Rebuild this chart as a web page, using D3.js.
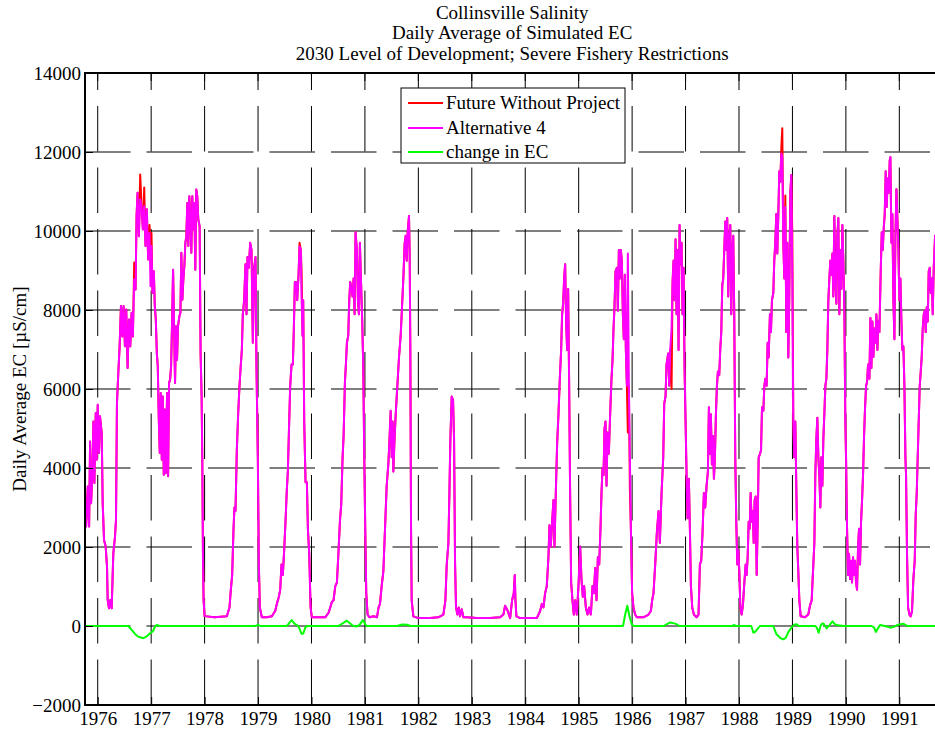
<!DOCTYPE html>
<html>
<head>
<meta charset="utf-8">
<script src="https://cdn.jsdelivr.net/npm/d3@7"></script>
<style>
  html, body { margin: 0; padding: 0; background: #ffffff; }
  svg { display: block; }
  text { font-family: "Liberation Serif", "Times New Roman", Times, serif; fill: #000; }
</style>
</head>
<body>
<svg id="chart" width="935" height="733"></svg>
<script>
// ---------------- data ----------------
const titleLines = [
  "Collinsville Salinity",
  "Daily Average of Simulated EC",
  "2030 Level of Development; Severe Fishery Restrictions"
];
const yAxisLabel = "Daily Average EC [\u00B5S/cm]";
const seriesNames = ["Future Without Project", "Alternative 4", "change in EC"];
const seriesColors = ["#ff0000", "#ff00ff", "#00ff00"];
const yTicks = [-2000, 0, 2000, 4000, 6000, 8000, 10000, 12000, 14000];
const xTickYears = [1976, 1977, 1978, 1979, 1980, 1981, 1982, 1983, 1984, 1985, 1986, 1987, 1988, 1989, 1990, 1991];

// time in decimal years (water years 1976-1991)
const ecTime = [
  1975.764,1975.783,1975.814,1975.839,1975.857,1975.876,1975.901,1975.919,1975.938,1975.963,1975.981,1976.000,1976.025,1976.043,1976.075,1976.093,1976.118,1976.149,1976.174,1976.186,1976.211,1976.236,1976.261,
  1976.292,1976.323,1976.342,1976.360,1976.385,1976.410,1976.435,1976.460,1976.484,1976.509,1976.534,1976.559,1976.584,1976.609,1976.634,1976.658,1976.683,1976.708,1976.727,1976.745,1976.770,1976.795,1976.820,1976.845,1976.870,1976.894,1976.919,1976.944,1976.969,1976.988,1977.006,
  1977.025,1977.050,1977.068,1977.087,1977.106,1977.124,1977.143,1977.161,1977.180,1977.199,1977.217,1977.236,1977.255,1977.273,1977.298,1977.317,1977.335,1977.354,1977.373,1977.391,1977.410,1977.429,1977.447,1977.466,1977.484,1977.503,
  1977.528,1977.547,1977.565,1977.584,1977.602,1977.621,1977.640,1977.658,1977.677,1977.696,1977.714,1977.733,1977.752,1977.770,1977.789,1977.807,1977.826,1977.845,1977.863,1977.882,1977.907,1977.925,1977.944,1977.957,1977.969,1977.981,1978.000,1978.186,
  1978.416,1978.466,1978.491,1978.516,1978.541,1978.559,1978.578,1978.603,1978.628,1978.653,1978.678,1978.697,1978.715,1978.740,1978.765,1978.784,1978.803,1978.828,1978.853,1978.878,1978.903,1978.928,1978.953,1978.971,1978.996,1979.015,1979.034,
  1979.071,1979.165,1979.258,1979.321,1979.352,1979.390,1979.415,1979.439,1979.464,1979.489,1979.514,1979.539,1979.558,1979.583,1979.602,1979.627,1979.652,1979.670,1979.689,1979.714,1979.733,1979.758,1979.777,1979.801,1979.814,1979.833,1979.845,1979.864,1979.889,1979.914,1979.933,1979.958,1979.983,1980.007,
  1980.257,1980.320,1980.351,1980.382,1980.413,1980.445,1980.476,1980.507,1980.532,1980.557,1980.582,1980.601,1980.626,1980.644,1980.663,1980.688,1980.707,1980.725,1980.750,1980.769,1980.788,1980.806,1980.825,1980.850,1980.869,1980.888,1980.906,1980.925,1980.950,1980.969,1980.988,1981.006,1981.025,1981.050,1981.087,1981.162,1981.225,1981.256,
  1981.282,1981.313,1981.345,1981.376,1981.407,1981.438,1981.457,1981.482,1981.501,1981.519,1981.532,1981.551,1981.576,1981.607,1981.638,1981.669,1981.694,1981.719,1981.744,1981.763,1981.782,1981.800,1981.825,1981.838,1981.850,1981.863,1981.875,1981.906,1982.000,1982.218,1982.375,1982.468,1982.506,1982.531,1982.562,1982.581,1982.599,1982.624,1982.649,1982.668,1982.687,1982.705,1982.730,1982.755,1982.780,1982.811,1982.843,1982.905,
  1983.092,1983.342,1983.529,1983.592,1983.623,1983.673,1983.717,1983.754,1983.785,1983.804,1983.817,1983.835,1983.904,1984.216,1984.279,1984.310,1984.341,1984.372,1984.403,1984.434,1984.453,1984.478,1984.503,1984.528,1984.547,1984.572,1984.597,1984.622,1984.647,1984.672,1984.690,1984.709,1984.728,1984.747,1984.765,1984.784,1984.803,1984.822,1984.840,1984.859,1984.884,1984.909,1984.934,1984.965,
  1984.996,1985.028,1985.052,1985.077,1985.102,1985.134,1985.165,1985.196,1985.228,1985.259,1985.284,1985.309,1985.334,1985.359,1985.384,1985.408,1985.427,1985.446,1985.465,1985.483,1985.502,1985.521,1985.540,1985.564,1985.589,1985.614,1985.633,1985.652,1985.670,1985.689,1985.714,1985.733,1985.752,1985.770,1985.789,1985.808,1985.827,1985.845,1985.864,1985.883,1985.902,1985.920,1985.939,1985.958,1985.977,1986.000,1986.025,1986.057,1986.088,1986.213,1986.307,1986.351,1986.375,1986.400,1986.432,1986.463,1986.494,
  1986.519,1986.551,1986.582,1986.601,1986.625,1986.644,1986.675,1986.694,1986.713,1986.738,1986.757,1986.775,1986.794,1986.813,1986.831,1986.850,1986.869,1986.888,1986.906,1986.925,1986.944,1986.963,1986.981,1987.000,1987.019,1987.037,1987.062,1987.081,1987.100,1987.125,1987.156,1987.206,1987.243,1987.268,1987.293,1987.318,1987.343,1987.368,1987.393,1987.418,1987.437,1987.456,1987.474,1987.493,1987.512,1987.531,1987.549,1987.568,1987.587,1987.605,1987.630,1987.649,1987.668,1987.687,1987.705,1987.724,1987.743,1987.762,1987.780,1987.799,1987.818,1987.837,1987.855,1987.874,1987.893,1987.911,1987.930,1987.949,1987.968,1987.987,
  1988.006,1988.025,1988.050,1988.075,1988.100,1988.125,1988.143,1988.162,1988.181,1988.200,1988.218,1988.237,1988.256,1988.275,1988.293,1988.312,1988.331,1988.350,1988.368,1988.393,1988.412,1988.431,1988.456,1988.474,1988.493,1988.517,1988.536,1988.554,1988.579,1988.598,1988.617,1988.642,1988.660,1988.679,1988.698,1988.717,1988.736,1988.754,1988.773,1988.792,1988.810,1988.829,1988.848,1988.867,1988.885,1988.904,1988.923,1988.941,1988.960,1988.979,1988.998,1989.016,1989.035,1989.054,1989.073,1989.091,1989.110,1989.129,
  1989.154,1989.235,1989.297,1989.328,1989.360,1989.391,1989.410,1989.428,1989.447,1989.466,1989.485,1989.503,1989.522,1989.541,1989.560,1989.578,1989.597,1989.616,1989.635,1989.653,1989.672,1989.691,1989.709,1989.728,1989.747,1989.765,1989.784,1989.803,1989.822,1989.840,1989.859,1989.878,1989.897,1989.915,1989.934,1989.953,1989.972,1989.990,1990.003,
  1990.022,1990.040,1990.059,1990.078,1990.097,1990.115,1990.134,1990.153,1990.172,1990.190,1990.209,1990.228,1990.246,1990.265,1990.284,1990.303,1990.321,1990.340,1990.359,1990.378,1990.396,1990.415,1990.440,1990.459,1990.478,1990.496,1990.515,1990.534,1990.553,1990.571,1990.590,1990.608,1990.627,1990.652,1990.671,1990.690,1990.708,1990.727,1990.745,1990.764,1990.783,1990.802,1990.820,1990.833,1990.852,1990.870,1990.889,1990.908,1990.927,1990.946,1990.964,1990.983,
  1991.001,1991.020,1991.039,1991.057,1991.076,1991.095,1991.114,1991.126,1991.145,1991.164,1991.189,1991.213,1991.238,1991.263,1991.288,1991.307,1991.326,1991.344,1991.363,1991.382,1991.401,1991.419,1991.438,1991.457,1991.476,1991.494,1991.513,1991.532,1991.550,1991.569,1991.588,1991.607,1991.625,1991.644,1991.669,1991.700
];

// Future Without Project, EC (uS/cm)
const ecFWP = [
  3000,2520,3530,2520,4670,3110,3870,5180,3620,5390,4210,5600,4380,5310,4880,3110,2180,2010,1500,660,450,660,450,
  1840,2260,2690,5640,6400,7080,8100,7330,8100,7080,8010,6530,7760,7080,7930,7330,9200,8520,10380,10970,9870,11430,10630,10040,11100,9620,10550,9280,10150,9600,9950,
  8430,8980,8100,7760,6910,6570,5220,4380,5900,4210,5810,3830,5480,3870,5900,3790,6150,6240,6570,7670,9020,7590,6150,7590,6740,7590,
  7840,7930,9450,8260,8770,9110,9700,9870,10710,9620,10880,10290,9450,10880,10040,10710,9020,11050,10880,10290,10120,6910,5810,4210,1840,660,250,220,
  245,470,920,1290,2460,3000,2910,4450,5360,6080,6620,6990,7890,8250,9160,7890,9340,9070,9700,9520,7170,9070,9340,6530,4270,1560,470,
  220,220,245,380,560,740,920,1560,1290,1920,2640,3460,3910,5180,6080,6620,6620,7530,8710,8710,8250,8890,9700,9520,9000,7350,8250,5180,3640,3640,2460,1830,470,220,
  220,335,470,610,650,1010,1100,1920,2640,3090,4270,4810,6170,6620,7170,7350,8250,8710,8530,8340,8800,7890,9970,9520,8250,7890,9700,8800,7710,6530,4270,2460,830,290,220,245,220,470,
  560,1010,1380,2460,3550,4090,4630,5450,4270,5180,3910,4630,5360,6080,6810,7350,8070,8800,9700,9880,9250,9970,10380,9340,6990,2460,650,245,200,200,220,290,650,1560,2100,3370,4720,5810,5720,4720,1560,470,290,470,245,425,220,220,
  200,200,220,290,515,380,200,650,830,1290,650,245,200,200,380,560,470,830,1010,1740,2550,2010,2640,3190,2010,3370,4630,5360,6260,6990,7890,8160,8800,9160,7710,6990,8530,6080,3370,1100,650,290,650,290,
  1010,2010,1190,740,1010,470,290,470,290,1010,830,1470,650,1740,1560,2460,3370,4000,3820,4990,5180,3550,4900,4360,5360,6260,6720,7530,8070,8980,9070,7980,9520,8800,9520,9250,7890,7260,8890,6990,6080,4900,6080,3450,2460,830,470,290,220,220,290,380,650,830,1560,2370,2910,
  2100,3370,4270,5630,5810,6620,6900,6080,6990,6000,8710,9250,8250,9790,7890,9520,6990,10150,9160,9700,7890,9070,6530,5180,3820,2730,3730,2460,1010,470,290,220,290,1560,1650,2370,3370,3000,3550,3910,5540,4360,5360,4090,4810,3730,4270,5360,6080,6440,6350,6990,7440,8620,8800,9520,10240,9520,10330,8340,9880,10150,7890,9520,9880,7890,4270,2640,1560,1920,
  1380,470,290,560,1100,1560,1290,1740,2640,2460,3370,2640,2910,2100,3190,3280,1290,2640,4270,4360,4450,5540,5450,6080,6260,6080,7170,6800,7890,7440,8250,8430,9250,9700,10430,9430,10430,11510,11240,12100,12600,9700,8800,10900,7440,9700,6800,8340,10970,11420,9850,5180,4270,5180,3460,2010,1380,650,
  245,220,290,515,650,1560,2100,3820,4720,5270,4270,3820,3000,4270,3550,4720,5360,6080,6260,6990,8250,8800,9250,8890,9430,8340,10380,8800,8160,9880,10330,7890,9520,8530,10150,9250,7890,5180,4270,
  2460,1290,1830,1190,1650,1100,1740,1290,1650,1100,920,2010,2460,1560,2640,3190,3820,4810,5540,6080,6170,6620,6260,7800,6530,7710,6810,7530,7170,7890,6990,7710,7440,8980,9970,9520,10060,10430,11510,10610,11330,10970,11780,11870,9700,10430,8250,7260,9880,11060,10330,9520,
  8250,8800,7710,6990,7080,6080,4270,3820,1740,470,290,245,380,1190,1650,2820,3370,4270,5180,6080,6440,6810,7530,7890,7980,7440,8070,7710,8980,9070,8430,8800,7890,9070,9880,9300
];

// Alternative 4, EC (uS/cm)
const ecAlt4 = [
  3000,2520,3530,2520,4670,3110,3870,5180,3620,5390,4210,5600,4380,5310,4880,3110,2180,2010,1500,660,450,660,450,
  1840,2260,2690,5640,6400,7080,8100,7330,8100,7080,8010,6530,7760,7080,7930,7330,8770,8520,10380,10970,9870,10800,10630,10040,10630,9620,10550,9280,9950,8600,9620,
  8430,8980,8100,7760,6910,6570,5220,4380,5900,4210,5810,3830,5480,3870,5900,3790,6150,6240,6570,7670,9020,7590,6150,7590,6740,7590,
  7840,7930,9450,8260,8770,9110,9700,9870,10710,9620,10880,10290,9450,10880,10040,10710,9020,11050,10880,10290,10120,6910,5810,4210,1840,660,250,220,
  245,470,920,1290,2460,3000,2910,4450,5360,6080,6620,6990,7890,8250,9160,7890,9340,9070,9700,9520,7170,9070,9340,6530,4270,1560,470,
  220,220,245,380,560,740,920,1560,1290,1920,2640,3460,3910,5180,6080,6620,6620,7530,8710,8710,8250,8890,9610,9520,8340,7350,8250,5180,3640,3640,2460,1830,470,220,
  220,335,470,610,650,1010,1100,1920,2640,3090,4270,4810,6170,6620,7170,7350,8250,8710,8530,8340,8800,7890,9970,9520,8250,7890,9700,8800,7710,6530,4270,2460,830,290,220,245,220,470,
  560,1010,1380,2460,3550,4090,4630,5450,4270,5180,3910,4630,5360,6080,6810,7350,8070,8800,9700,9880,9250,9970,10380,9340,6990,2460,650,245,200,200,220,290,650,1560,2100,3370,4720,5810,5720,4720,1560,470,290,470,245,425,220,220,
  200,200,220,290,515,380,200,650,830,1290,650,245,200,200,380,560,470,830,1010,1740,2550,2010,2640,3190,2010,3370,4630,5360,6260,6990,7890,8160,8800,9160,7710,6990,8530,6080,3370,1100,650,290,650,290,
  1010,2010,1190,740,1010,470,290,470,290,1010,830,1470,650,1740,1560,2460,3370,4000,3820,4990,5180,3550,4900,4360,5360,6260,6720,7530,8070,8980,9070,7980,9520,8800,9520,9250,7890,7260,8890,6990,6080,9430,6080,4270,2460,830,470,290,220,220,290,380,650,830,1560,2370,2910,
  2100,3370,4270,5630,5810,6620,6900,6080,6990,7530,8710,9250,8250,9790,7890,9520,6990,10150,9160,9700,7890,9070,6530,5180,3820,2730,3730,2460,1010,470,290,220,290,1560,1650,2370,3370,3000,3550,3910,5540,4360,5360,4090,4810,3730,4270,5360,6080,6440,6350,6990,7440,8620,8800,9520,10240,9520,10330,8340,9880,10150,7890,9520,9880,7890,4270,2640,1560,1920,
  1380,470,290,560,1100,1560,1290,1740,2640,2460,3370,2640,2910,2100,3190,3280,1290,2640,4270,4360,4450,5540,5450,6080,6260,6080,7170,6800,7890,7440,8250,8430,9250,9700,10430,9430,10430,11510,11240,11960,11870,9700,8800,10610,7440,9700,6800,8340,10970,11420,8800,5180,4270,5180,3460,2010,1380,650,
  245,220,290,515,650,1560,2100,3820,4720,5270,4270,3820,3000,4270,3550,4720,5360,6080,6260,6990,8250,8800,9250,8890,9430,8340,10380,8800,8160,9880,10330,7890,9520,8530,10150,9250,7890,5180,4270,
  2460,1290,1830,1190,1650,1100,1740,1290,1650,1100,920,2010,2460,1560,2640,3190,3820,4810,5540,6080,6170,6620,6260,7800,6530,7710,6810,7530,7170,7890,6990,7710,7440,8980,9970,9520,10060,10430,11510,10610,11330,10970,11780,11870,9700,10430,8250,7260,9880,11060,10330,9520,
  8250,8800,7710,6990,7080,6080,4270,3820,1740,470,290,245,380,1190,1650,2820,3370,4270,5180,6080,6440,6810,7530,7890,7980,7440,8070,7710,8980,9070,8430,8800,7890,9070,9880,9300
];

// change in EC (Alternative 4 minus Future Without Project)
const chgTime = [
  1975.762,1976.573,1976.636,1976.698,1976.760,1976.854,1976.929,1976.979,1977.029,1977.072,1977.104,1977.166,
  1978.950,1979.000,1979.040,1979.540,1979.585,1979.630,1979.680,1979.754,1979.790,1979.817,1979.847,1979.890,1979.930,
  1980.500,1980.600,1980.660,1980.720,1980.780,1980.846,1980.900,1980.960,1981.000,1981.030,
  1981.600,1981.700,1981.800,1981.850,
  1985.830,1985.870,1985.910,1985.950,1985.995,1986.030,
  1986.590,1986.710,1986.810,1986.890,
  1987.880,1987.900,1987.950,
  1988.230,1988.270,1988.300,1988.340,1988.390,
  1988.640,1988.700,1988.780,1988.830,1988.880,1988.920,1988.985,1989.040,1989.080,1989.120,
  1989.430,1989.460,1989.490,1989.530,1989.560,1989.590,1989.640,1989.690,1989.750,1989.800,1989.830,1989.950,
  1990.480,1990.530,1990.560,1990.600,1990.640,1990.730,1990.830,1990.900,1990.950,1991.070,1991.140,1991.170,1991.750
];
const chgEC = [
  0,0,-100,-200,-270,-310,-250,-185,-140,-20,25,0,
  0,30,0,0,80,150,60,0,-120,-200,-190,-17,0,
  0,80,135,70,0,-10,30,150,60,0,
  0,36,30,0,
  0,290,515,245,36,0,
  0,90,60,0,
  0,25,0,
  0,-170,-150,-85,0,
  0,-208,-310,-337,-290,-163,-36,40,42,0,
  0,-54,-170,18,67,50,-60,18,118,36,25,0,
  0,-40,-150,-60,25,0,-42,-20,18,60,10,0,0
];

// ---------------- drawing ----------------
const svg = d3.select("#chart");
const W = 935, H = 733;
const plot = { left: 85, right: 939.4, top: 73, bottom: 705 };
const fontSize = 19;

svg.append("rect").attr("width", W).attr("height", H).attr("fill", "#ffffff");

const x = d3.scaleLinear().domain([1975.762, 1991.75]).range([plot.left, plot.right]);
const y = d3.scaleLinear().domain([-2000, 14000]).range([plot.bottom, plot.top]);

// clip
svg.append("defs").append("clipPath").attr("id", "plotClip")
  .append("rect").attr("x", plot.left).attr("y", plot.top)
  .attr("width", plot.right - plot.left).attr("height", plot.bottom - plot.top);

// grid
const grid = svg.append("g").attr("class", "grid");
grid.selectAll("line.h").data(yTicks.filter(v => v > -2000 && v < 14000)).enter()
  .append("line").attr("class", "h")
  .attr("x1", plot.left).attr("x2", plot.right)
  .attr("y1", d => y(d)).attr("y2", d => y(d))
  .attr("stroke", "#000").attr("stroke-width", 1)
  .attr("stroke-dasharray", "45.5,16");
grid.selectAll("line.v").data(xTickYears).enter()
  .append("line").attr("class", "v")
  .attr("x1", d => x(d)).attr("x2", d => x(d))
  .attr("y1", plot.bottom).attr("y2", plot.top)
  .attr("stroke", "#000").attr("stroke-width", 1)
  .attr("stroke-dasharray", "45.5,16");

// series lines
const lines = svg.append("g").attr("clip-path", "url(#plotClip)");
const idx = d3.range(ecTime.length);
const lineFWP = d3.line().x(i => x(ecTime[i])).y(i => y(ecFWP[i]));
const lineAlt = d3.line().x(i => x(ecTime[i])).y(i => y(ecAlt4[i]));
const lineChg = d3.line().x(i => x(chgTime[i])).y(i => y(chgEC[i]));

lines.append("path").attr("d", lineFWP(idx))
  .attr("fill", "none").attr("stroke", seriesColors[0]).attr("stroke-width", 2).attr("stroke-linejoin", "round");
lines.append("path").attr("d", lineAlt(idx))
  .attr("fill", "none").attr("stroke", seriesColors[1]).attr("stroke-width", 2).attr("stroke-linejoin", "round");
lines.append("path").attr("d", lineChg(d3.range(chgTime.length)))
  .attr("fill", "none").attr("stroke", seriesColors[2]).attr("stroke-width", 2).attr("stroke-linejoin", "round");

// axes
const yAxis = d3.axisLeft(y).tickValues(yTicks).tickFormat(d3.format("d"))
  .tickSizeInner(-8).tickSizeOuter(0).tickPadding(4);
const gy = svg.append("g").attr("transform", `translate(${plot.left},0)`).call(yAxis);
gy.select(".domain").remove();
gy.selectAll(".tick line").attr("stroke", "#000");
gy.selectAll(".tick text").attr("font-size", fontSize)
  .attr("font-family", '"Liberation Serif", "Times New Roman", serif');

const xAxis = d3.axisBottom(x).tickValues(xTickYears).tickFormat(d3.format("d"))
  .tickSizeInner(-8).tickSizeOuter(0).tickPadding(7);
const gx = svg.append("g").attr("transform", `translate(0,${plot.bottom})`).call(xAxis);
gx.select(".domain").remove();
gx.selectAll(".tick line").attr("stroke", "#000");
gx.selectAll(".tick text").attr("font-size", fontSize)
  .attr("font-family", '"Liberation Serif", "Times New Roman", serif');

// top ticks
svg.append("g").selectAll("line").data(xTickYears).enter().append("line")
  .attr("x1", d => x(d)).attr("x2", d => x(d))
  .attr("y1", plot.top).attr("y2", plot.top + 8)
  .attr("stroke", "#000");

// axis box lines
svg.append("line").attr("x1", plot.left).attr("x2", plot.left).attr("y1", plot.top - 1).attr("y2", plot.bottom + 1)
  .attr("stroke", "#000").attr("stroke-width", 2);
svg.append("line").attr("x1", plot.left).attr("x2", plot.right).attr("y1", plot.bottom).attr("y2", plot.bottom)
  .attr("stroke", "#000").attr("stroke-width", 2);
svg.append("line").attr("x1", plot.left).attr("x2", plot.right).attr("y1", plot.top).attr("y2", plot.top)
  .attr("stroke", "#000").attr("stroke-width", 2);

// title
const cx = (plot.left + plot.right) / 2;
svg.append("g").selectAll("text").data(titleLines).enter().append("text")
  .attr("x", cx).attr("y", (d, i) => 18.5 + i * 20.5)
  .attr("text-anchor", "middle").attr("font-size", fontSize)
  .text(d => d);

// y label
svg.append("text")
  .attr("transform", `translate(19,${(plot.top + plot.bottom) / 2}) rotate(-90)`)
  .attr("text-anchor", "middle").attr("dy", "0.35em")
  .attr("font-size", fontSize).text(yAxisLabel);

// legend
const legend = svg.append("g").attr("class", "legend");
legend.append("rect").attr("x", 401).attr("y", 88).attr("width", 224).attr("height", 75)
  .attr("fill", "#fff").attr("stroke", "#000").attr("stroke-width", 1);
const legY = [103, 128, 152];
seriesNames.forEach((name, i) => {
  legend.append("line").attr("x1", 408).attr("x2", 443).attr("y1", legY[i]).attr("y2", legY[i])
    .attr("stroke", seriesColors[i]).attr("stroke-width", 2);
  legend.append("text").attr("x", 446).attr("y", legY[i]).attr("dy", "0.33em")
    .attr("font-size", fontSize).text(name);
});

if (ecTime.length !== ecFWP.length || ecTime.length !== ecAlt4.length || chgTime.length !== chgEC.length) {
  console.error("length mismatch", ecTime.length, ecFWP.length, ecAlt4.length, chgTime.length, chgEC.length);
}
</script>
</body>
</html>
